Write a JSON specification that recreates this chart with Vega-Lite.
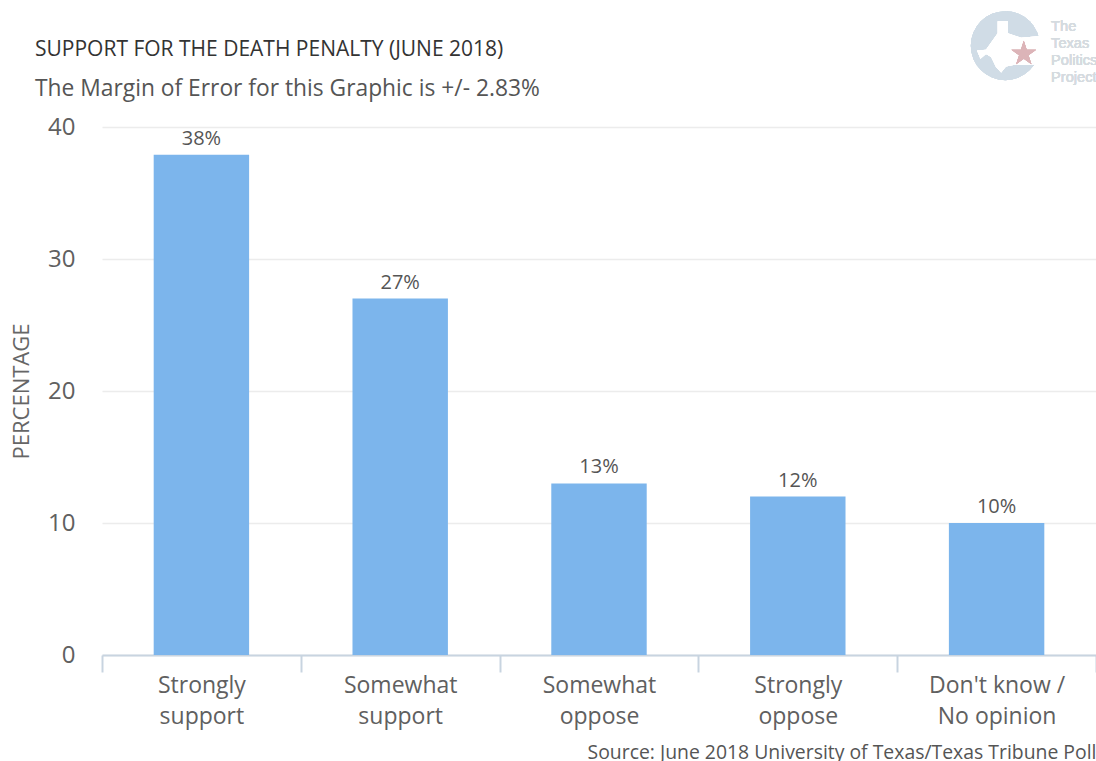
{
  "$schema": "https://vega.github.io/schema/vega-lite/v6.json",
  "width": 994,
  "height": 528,
  "autosize": "none",
  "padding": {"left": 102, "top": 127, "right": 0, "bottom": 106},
  "background": "white",
  "title": {
    "text": "SUPPORT FOR THE DEATH PENALTY (JUNE 2018)",
    "subtitle": "The Margin of Error for this Graphic is +/- 2.83%",
    "anchor": "start",
    "frame": "group",
    "dx": -67,
    "offset": -90,
    "font": "Open Sans",
    "fontSize": 21,
    "fontWeight": "normal",
    "color": "#333333",
    "subtitleFont": "Open Sans",
    "subtitleFontSize": 22.8,
    "subtitleColor": "#555555",
    "subtitlePadding": 18
  },
  "config": {
    "font": "Open Sans",
    "view": {"stroke": null}
  },
  "data": {
    "values": [
      {"response": "Strongly|support", "percentage": 37.9, "label": "38%"},
      {"response": "Somewhat|support", "percentage": 27, "label": "27%"},
      {"response": "Somewhat|oppose", "percentage": 13, "label": "13%"},
      {"response": "Strongly|oppose", "percentage": 12, "label": "12%"},
      {"response": "Don't know /|No opinion", "percentage": 10, "label": "10%"}
    ]
  },
  "layer": [
    {
      "mark": {"type": "bar", "color": "#7cb5ec", "width": {"band": 0.48}},
      "encoding": {
        "x": {
          "field": "response",
          "type": "nominal",
          "sort": null,
          "scale": {"paddingInner": 0, "paddingOuter": 0},
          "axis": {
            "title": "Source: June 2018 University of Texas/Texas Tribune Poll",
            "titleFont": "Open Sans",
            "titleFontSize": 19.4,
            "titleFontWeight": "normal",
            "titleColor": "#555555",
            "titleAnchor": "end",
            "titlePadding": 15,
            "labelAngle": 0,
            "labelAlign": "center",
            "labelFontSize": 23,
            "labelColor": "#606060",
            "labelLineHeight": 31,
            "labelPadding": 2,
            "labelExpr": "split(datum.label, '|')",
            "labelLimit": 300,
            "domainColor": "#c8d4e0",
            "domainWidth": 2,
            "tickColor": "#c8d4e0",
            "tickWidth": 2,
            "tickSize": 17,
            "tickBand": "extent"
          }
        },
        "y": {
          "field": "percentage",
          "type": "quantitative",
          "scale": {"domain": [0, 40]},
          "axis": {
            "title": "PERCENTAGE",
            "titleFont": "Open Sans",
            "titleFontSize": 22,
            "titleFontWeight": "normal",
            "titleColor": "#666666",
            "titlePadding": 14,
            "values": [0, 10, 20, 30, 40],
            "labelFontSize": 24,
            "labelColor": "#606060",
            "labelPadding": 27,
            "domain": false,
            "ticks": false,
            "grid": true,
            "gridColor": "#ececec",
            "gridWidth": 1.5
          }
        }
      }
    },
    {
      "mark": {"type": "text", "baseline": "bottom", "dy": -6, "fontSize": 20, "color": "#555555", "font": "Open Sans"},
      "encoding": {
        "x": {"field": "response", "type": "nominal", "sort": null},
        "y": {"field": "percentage", "type": "quantitative"},
        "text": {"field": "label"}
      }
    },
    {
      "mark": {"type": "point", "shape": "circle", "filled": true, "size": 4761, "color": "#d0dce6", "opacity": 1},
      "encoding": {
        "x": {"datum": "Don't know /|No opinion"},
        "xOffset": {"value": 108.1},
        "y": {"datum": 46.16}
      }
    },
    {
      "mark": {
        "type": "point",
        "shape": "M-0.22,-0.71 L0.07,-0.71 L0.07,-0.36 L0.46,-0.23 L1.09,-0.29 L1.09,0.53 L0.65,0.55 L0.27,0.55 L0.02,0.60 L-0.12,0.78 L-0.27,0.62 L-0.41,0.33 L-0.56,0.24 L-0.72,0.38 L-0.82,0.14 L-0.56,0.12 L-0.22,-0.36 Z",
        "filled": true, "size": 4761, "color": "white", "opacity": 1
      },
      "encoding": {
        "x": {"datum": "Don't know /|No opinion"},
        "xOffset": {"value": 108.1},
        "y": {"datum": 46.16}
      }
    },
    {
      "mark": {
        "type": "point",
        "shape": "M0,-1 L0.2245,-0.309 L0.951,-0.309 L0.363,0.118 L0.588,0.809 L0,0.382 L-0.588,0.809 L-0.363,0.118 L-0.951,-0.309 L-0.2245,-0.309 Z",
        "filled": true, "size": 676, "color": "#dcb4b8", "opacity": 1
      },
      "encoding": {
        "x": {"datum": "Don't know /|No opinion"},
        "xOffset": {"value": 126.6},
        "y": {"datum": 45.55}
      }
    },
    {
      "mark": {
        "type": "text",
        "text": ["The", "Texas", "Politics", "Project"],
        "align": "left",
        "baseline": "top",
        "dx": 54.5,
        "font": "Liberation Sans",
        "fontSize": 14.6,
        "fontWeight": "normal",
        "lineHeight": 17.2,
        "color": "#d5dbe0"
      },
      "encoding": {
        "x": {"datum": "Don't know /|No opinion"},
        "y": {"datum": 48.2}
      }
    }
  ]
}
